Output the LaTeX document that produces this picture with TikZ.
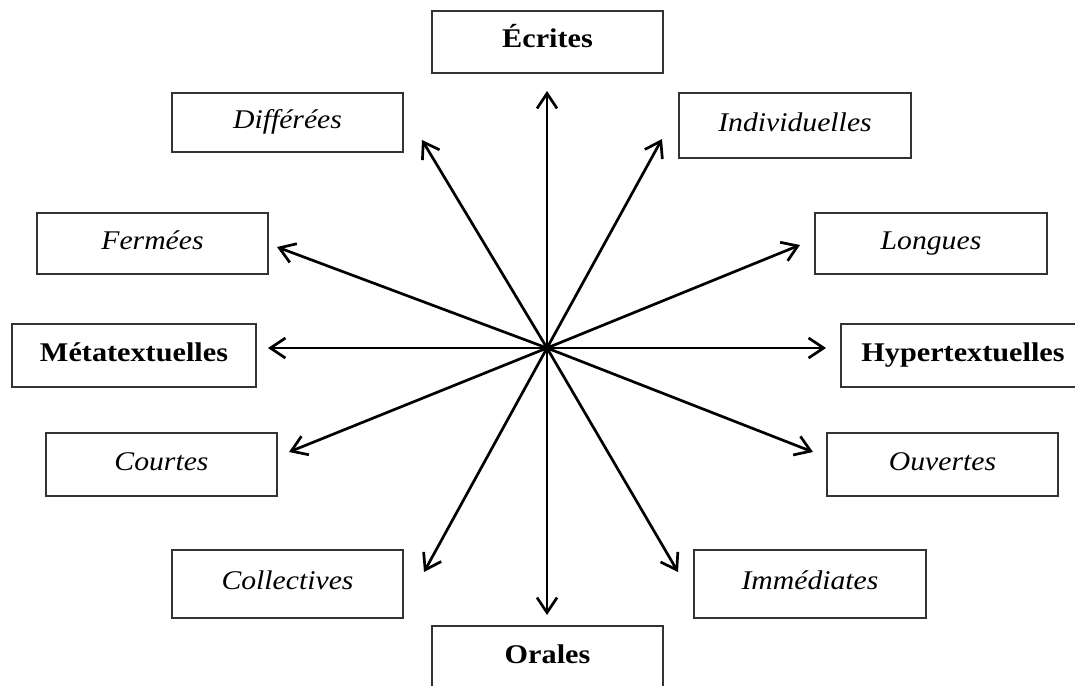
\documentclass[tikz,border=0pt]{standalone}
\usepackage{fontspec}
\setmainfont{Liberation Serif}
\usetikzlibrary{arrows.meta}
\tikzset{
  box/.style={draw=black!80, line width=1.5pt, fill=white, inner sep=0pt,
    minimum width=231pt, minimum height=62pt, text height=21pt, text depth=10pt,
    font=\fontsize{27}{30}\selectfont},
  wide/.style={minimum width=244pt, minimum height=63pt},
  ray/.style={line width=2.7pt, black, -{Straight Barb[length=15pt,width=20pt]}}
}
\newcommand{\boldlbl}[1]{\scalebox{1.12}[1]{\bfseries #1}}
\newcommand{\itlbl}[1]{\scalebox{1.1}[1]{\itshape #1}}
\begin{document}
\begin{tikzpicture}[x=1pt,y=-1pt]
\useasboundingbox (0,0) rectangle (1075,685);
% boxes
\node[box] (ecr) at (547.5,42) {\boldlbl{Écrites}};
\node[box, minimum height=59pt] (dif) at (287.5,122.5) {\itlbl{Différées}};
\node[box, minimum width=232pt, minimum height=65pt] (ind) at (795,125.5) {\itlbl{Individuelles}};
\node[box, minimum height=61pt] (fer) at (152.5,243.5) {\itlbl{Fermées}};
\node[box, minimum width=232pt, minimum height=61pt] (lon) at (931,243.5) {\itlbl{Longues}};
\node[box, wide] (met) at (134,355.5) {\boldlbl{Métatextuelles}};
\node[box, wide] (hyp) at (963,355.5) {\boldlbl{Hypertextuelles}};
\node[box, minimum height=63pt] (cou) at (161.5,464.5) {\itlbl{Courtes}};
\node[box, minimum height=63pt] (ouv) at (942.5,464.5) {\itlbl{Ouvertes}};
\node[box, minimum height=68pt] (col) at (287.5,584) {\itlbl{Collectives}};
\node[box, minimum width=232pt, minimum height=68pt] (imm) at (810,584) {\itlbl{Immédiates}};
\node[box, minimum height=64pt] (ora) at (547.5,658) {\boldlbl{Orales}};
% centre and arrow tips
\coordinate (c) at (547,348);
\coordinate (tU) at (547,91);
\coordinate (tD) at (547,615);
\coordinate (tL) at (268,348);
\coordinate (tR) at (826,348);
\coordinate (tDif) at (422,140);
\coordinate (tInd) at (662,139);
\coordinate (tCol) at (424,572);
\coordinate (tImm) at (678,572);
\coordinate (tFer) at (277,247);
\coordinate (tLon) at (800,245);
\coordinate (tCou) at (289,452);
\coordinate (tOuv) at (813,452);
% rays
\foreach \t in {tU,tD,tL,tR,tDif,tInd,tCol,tImm,tFer,tLon,tCou,tOuv}
  \draw[ray] (c) -- (\t);
\end{tikzpicture}
\end{document}
